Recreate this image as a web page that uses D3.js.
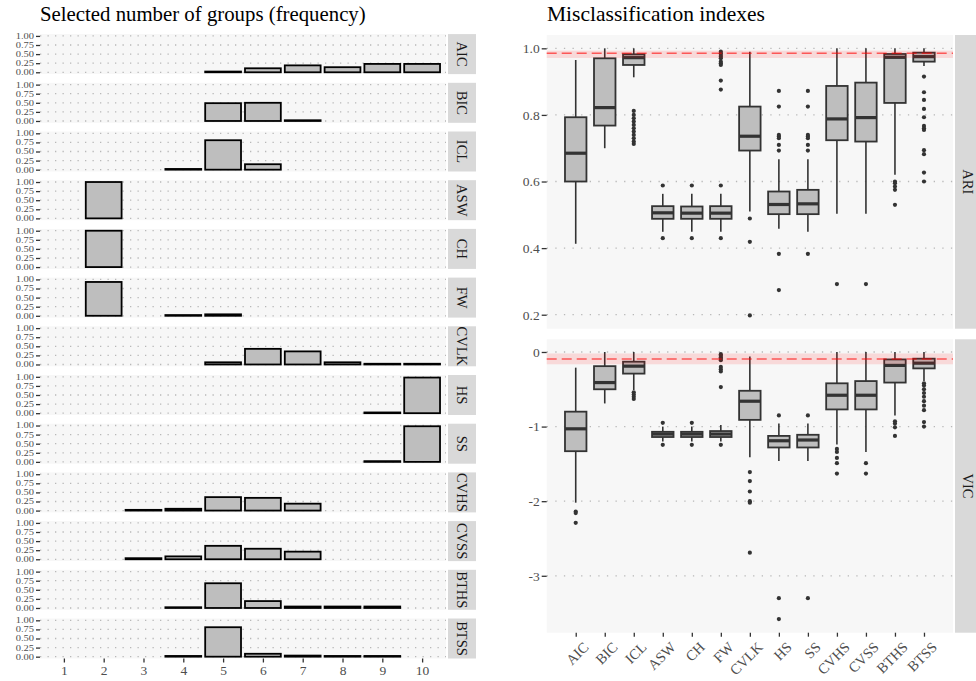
<!DOCTYPE html>
<html>
<head>
<meta charset="utf-8">
<script src="https://cdn.jsdelivr.net/npm/d3@7"></script>
<style>
  body { margin: 0; background: #fff; }
  svg text { font-family: "Liberation Serif", "Times New Roman", Times, "DejaVu Serif", "Noto Serif", serif !important; }
</style>
</head>
<body>
<script>
var width = 976,
    height = 681;

// ---- data ----
var methods = ["AIC","BIC","ICL","ASW","CH","FW","CVLK","HS","SS","CVHS","CVSS","BTHS","BTSS"];
var groupCounts = [1,2,3,4,5,6,7,8,9,10];

// frequency of selected number of groups (1..10), one array per method
var freqAIC  = [0,0,0,0,0.02,0.11,0.19,0.14,0.23,0.23];
var freqBIC  = [0,0,0,0,0.49,0.5,0.02,0,0,0];
var freqICL  = [0,0,0,0.02,0.81,0.15,0,0,0,0];
var freqASW  = [0,1,0,0,0,0,0,0,0,0];
var freqCH   = [0,1,0,0,0,0,0,0,0,0];
var freqFW   = [0,0.93,0,0.02,0.04,0,0,0,0,0];
var freqCVLK = [0,0,0,0,0.06,0.43,0.36,0.06,0.02,0.02];
var freqHS   = [0,0,0,0,0,0,0,0,0.02,0.98];
var freqSS   = [0,0,0,0,0,0,0,0,0.02,0.98];
var freqCVHS = [0,0,0.02,0.05,0.37,0.35,0.19,0,0,0];
var freqCVSS = [0,0,0.03,0.08,0.37,0.29,0.21,0,0,0];
var freqBTHS = [0,0,0,0.02,0.68,0.19,0.04,0.04,0.04,0];
var freqBTSS = [0,0,0,0.02,0.81,0.08,0.03,0.02,0.02,0];
var freqs = [freqAIC,freqBIC,freqICL,freqASW,freqCH,freqFW,freqCVLK,freqHS,freqSS,freqCVHS,freqCVSS,freqBTHS,freqBTSS];

// ARI boxplot stats per method
var ariLow  = [0.413,0.70,0.913,0.449,0.449,0.449,0.51,0.458,0.449,0.503,0.503,0.62,0.947];
var ariQ1   = [0.60,0.768,0.95,0.488,0.488,0.488,0.693,0.502,0.502,0.724,0.72,0.836,0.96];
var ariMed  = [0.685,0.822,0.972,0.506,0.505,0.505,0.736,0.531,0.533,0.788,0.792,0.973,0.975];
var ariQ3   = [0.793,0.97,0.982,0.526,0.525,0.526,0.825,0.57,0.575,0.887,0.897,0.983,0.987];
var ariHigh = [0.965,1.0,1.0,0.563,0.563,0.563,0.99,0.667,0.667,1.0,1.0,1.0,1.0];
var ariOut  = [
  [],
  [],
  [0.812,0.80,0.79,0.78,0.77,0.76,0.75,0.74,0.73,0.72,0.713],
  [0.588,0.43],
  [0.588,0.43],
  [0.99,0.985,0.98,0.975,0.97,0.96,0.955,0.95,0.903,0.876,0.588,0.43],
  [0.489,0.419,0.198],
  [0.872,0.825,0.74,0.735,0.73,0.71,0.693,0.383,0.274],
  [0.872,0.825,0.74,0.735,0.73,0.71,0.693,0.383],
  [0.292],
  [0.292],
  [0.60,0.595,0.585,0.575,0.53],
  [0.915,0.868,0.845,0.818,0.793,0.767,0.76,0.755,0.694,0.682,0.627,0.60]
];

// VIC boxplot stats per method
var vicLow  = [-2.02,-0.69,-0.51,-1.2,-1.2,-1.2,-1.41,-1.46,-1.46,-1.24,-1.34,-0.85,-0.39];
var vicQ1   = [-1.33,-0.50,-0.29,-1.14,-1.14,-1.14,-0.91,-1.28,-1.28,-0.77,-0.77,-0.41,-0.22];
var vicMed  = [-1.03,-0.41,-0.19,-1.10,-1.10,-1.10,-0.66,-1.19,-1.18,-0.58,-0.58,-0.18,-0.15];
var vicQ3   = [-0.80,-0.19,-0.13,-1.07,-1.07,-1.06,-0.52,-1.125,-1.11,-0.42,-0.39,-0.10,-0.09];
var vicHigh = [-0.21,0,0,-1.0,-1.0,-0.98,-0.06,-0.96,-0.96,0,0,0,0];
var vicOut  = [
  [-2.14,-2.16,-2.29],
  [],
  [-0.54,-0.57,-0.60,-0.63],
  [-0.95,-1.245],
  [-0.95,-1.245],
  [-0.03,-0.05,-0.07,-0.09,-0.11,-0.20,-0.23,-0.26,-0.47,-1.245],
  [-1.61,-1.73,-1.87,-2.0,-2.02,-2.69],
  [-0.85,-3.30,-3.58],
  [-0.85,-3.30],
  [-1.30,-1.34,-1.42,-1.49,-1.63],
  [-1.49,-1.63],
  [-0.93,-0.96,-1.01,-1.125],
  [-0.42,-0.45,-0.50,-0.55,-0.60,-0.66,-0.72,-0.78,-0.94,-1.0]
];

// reference line (dashed) and band for each index
var ariRef = 0.985, ariBand = [0.971, 0.993];
var vicRef = -0.094, vicBand = [-0.165, -0.02];

// ---- colours ----
var panelBg = "#f7f7f7",
    stripBg = "#d9d9d9",
    gridCol = "#b8b8b8",
    tickCol = "#4d4d4d",
    boxFill = "#bebebe",
    dark = "#333333";

var svg = d3.select("body").append("svg")
    .attr("width", width)
    .attr("height", height);

// ================= left: frequencies =================
var lx0 = 40, lx1 = 446,
    ptop = 34.1, ph = 40, pstep = 48.7;

svg.append("text")
    .attr("x", 40).attr("y", 21)
    .attr("font-size", 20.8)
    .text("Selected number of groups (frequency)");

var x = d3.scaleLinear().domain([0.4, 10.6]).range([lx0, lx1]);
var barW = 0.9 * (x(2) - x(1));

methods.forEach(function(m, i) {
  var top = ptop + i * pstep;
  var y = d3.scaleLinear().domain([-0.05, 1.05]).range([top + ph, top]);
  var g = svg.append("g");

  g.append("rect")
      .attr("x", lx0).attr("y", top)
      .attr("width", lx1 - lx0).attr("height", ph)
      .attr("fill", panelBg);

  g.selectAll(".grid")
      .data([0, 0.25, 0.5, 0.75, 1])
    .enter().append("line")
      .attr("x1", lx0).attr("x2", lx1)
      .attr("y1", function(d) { return y(d); })
      .attr("y2", function(d) { return y(d); })
      .attr("stroke", gridCol)
      .attr("stroke-width", 1.3)
      .attr("stroke-dasharray", "1.3,6.2");

  var yAxis = g.append("g")
      .attr("transform", "translate(" + lx0 + ",0)")
      .call(d3.axisLeft(y).tickValues([0, 0.25, 0.5, 0.75, 1]).tickFormat(d3.format(".2f")).tickSize(4).tickPadding(2));
  yAxis.select(".domain").remove();
  yAxis.selectAll("line").attr("stroke", dark).attr("stroke-width", 1.3);
  // tick labels in the reference are squeezed vertically
  yAxis.selectAll("text")
      .attr("fill", tickCol)
      .attr("font-size", 10.5)
      .attr("transform", "scale(1,0.72)");

  var data = freqs[i].map(function(v, j) { return {k: groupCounts[j], v: v}; })
      .filter(function(d) { return d.v > 0; });

  g.selectAll(".bar")
      .data(data)
    .enter().append("rect")
      .attr("x", function(d) { return x(d.k) - barW / 2; })
      .attr("width", barW)
      .attr("y", function(d) { return y(d.v); })
      .attr("height", function(d) { return y(0) - y(d.v); })
      .attr("fill", boxFill)
      .attr("stroke", "#000")
      .attr("stroke-width", 1.8);

  // strip
  g.append("rect")
      .attr("x", 448).attr("y", top)
      .attr("width", 28).attr("height", ph)
      .attr("fill", stripBg);
  g.append("text")
      .attr("transform", "translate(462," + (top + ph / 2) + ") rotate(90)")
      .attr("text-anchor", "middle")
      .attr("dy", "0.35em")
      .attr("font-size", 14.5)
      .attr("fill", "#1a1a1a")
      .text(m);
});

var lbottom = ptop + 12 * pstep + ph;
var xAxis = svg.append("g")
    .attr("transform", "translate(0," + lbottom + ")")
    .call(d3.axisBottom(x).tickValues(groupCounts).tickFormat(d3.format("d")).tickSize(4).tickPadding(3));
xAxis.select(".domain").remove();
xAxis.selectAll("line").attr("stroke", dark).attr("stroke-width", 1.3);
xAxis.selectAll("text")
    .attr("fill", tickCol)
    .attr("font-size", 13.5);

// ================= right: misclassification boxplots =================
var rx0 = 546.7, rx1 = 953;

svg.append("text")
    .attr("x", 547).attr("y", 21)
    .attr("font-size", 21.5)
    .text("Misclassification indexes");

var xm = d3.scalePoint().domain(methods).range([rx0, rx1]).padding(1);
var boxW = 0.74 * xm.step();

var facets = [
  {name: "ARI", top: 35, bottom: 328.7, domain: [0.158, 1.04], ticks: [0.2, 0.4, 0.6, 0.8, 1.0],
   fmt: d3.format(".1f"), low: ariLow, q1: ariQ1, med: ariMed, q3: ariQ3, high: ariHigh, out: ariOut,
   ref: ariRef, band: ariBand},
  {name: "VIC", top: 339.3, bottom: 632.7, domain: [-3.763, 0.17], ticks: [-3, -2, -1, 0],
   fmt: function(d) { return String(d); }, low: vicLow, q1: vicQ1, med: vicMed, q3: vicQ3, high: vicHigh, out: vicOut,
   ref: vicRef, band: vicBand}
];

facets.forEach(function(f) {
  var y = d3.scaleLinear().domain(f.domain).range([f.bottom, f.top]);
  var g = svg.append("g");

  g.append("rect")
      .attr("x", rx0).attr("y", f.top)
      .attr("width", rx1 - rx0).attr("height", f.bottom - f.top)
      .attr("fill", panelBg);

  g.selectAll(".grid")
      .data(f.ticks)
    .enter().append("line")
      .attr("x1", rx0).attr("x2", rx1)
      .attr("y1", function(d) { return y(d); })
      .attr("y2", function(d) { return y(d); })
      .attr("stroke", gridCol)
      .attr("stroke-width", 1.3)
      .attr("stroke-dasharray", "1.3,7.3");

  var yAxis = g.append("g")
      .attr("transform", "translate(" + rx0 + ",0)")
      .call(d3.axisLeft(y).tickValues(f.ticks).tickFormat(f.fmt).tickSize(5).tickPadding(2));
  yAxis.select(".domain").remove();
  yAxis.selectAll("line").attr("stroke", dark).attr("stroke-width", 1.3);
  yAxis.selectAll("text")
      .attr("fill", tickCol)
      .attr("font-size", 13.5);

  var boxes = methods.map(function(m, i) {
    return {m: m, low: f.low[i], q1: f.q1[i], med: f.med[i], q3: f.q3[i], high: f.high[i], out: f.out[i]};
  });

  var bg = g.selectAll(".box")
      .data(boxes)
    .enter().append("g");

  // whiskers
  bg.append("line")
      .attr("x1", function(d) { return xm(d.m); })
      .attr("x2", function(d) { return xm(d.m); })
      .attr("y1", function(d) { return y(d.high); })
      .attr("y2", function(d) { return y(d.low); })
      .attr("stroke", dark)
      .attr("stroke-width", 1.6);

  bg.append("rect")
      .attr("x", function(d) { return xm(d.m) - boxW / 2; })
      .attr("width", boxW)
      .attr("y", function(d) { return y(d.q3); })
      .attr("height", function(d) { return y(d.q1) - y(d.q3); })
      .attr("fill", boxFill)
      .attr("stroke", dark)
      .attr("stroke-width", 1.8);

  bg.append("line")
      .attr("x1", function(d) { return xm(d.m) - boxW / 2; })
      .attr("x2", function(d) { return xm(d.m) + boxW / 2; })
      .attr("y1", function(d) { return y(d.med); })
      .attr("y2", function(d) { return y(d.med); })
      .attr("stroke", dark)
      .attr("stroke-width", 3.2);

  bg.selectAll(".out")
      .data(function(d) { return d.out.map(function(v) { return {m: d.m, v: v}; }); })
    .enter().append("circle")
      .attr("cx", function(d) { return xm(d.m); })
      .attr("cy", function(d) { return y(d.v); })
      .attr("r", 2.1)
      .attr("fill", dark);

  // reference band and dashed line
  g.append("rect")
      .attr("x", rx0).attr("width", rx1 - rx0)
      .attr("y", y(f.band[1]))
      .attr("height", y(f.band[0]) - y(f.band[1]))
      .attr("fill", "red")
      .attr("fill-opacity", 0.12);
  g.append("line")
      .attr("x1", rx0).attr("x2", rx1)
      .attr("y1", y(f.ref)).attr("y2", y(f.ref))
      .attr("stroke", "red")
      .attr("stroke-opacity", 0.6)
      .attr("stroke-width", 1.5)
      .attr("stroke-dasharray", "10,5");

  // strip
  g.append("rect")
      .attr("x", 955).attr("y", f.top)
      .attr("width", 28).attr("height", f.bottom - f.top)
      .attr("fill", stripBg);
  g.append("text")
      .attr("transform", "translate(968," + ((f.top + f.bottom) / 2) + ") rotate(90)")
      .attr("text-anchor", "middle")
      .attr("dy", "0.35em")
      .attr("font-size", 14.5)
      .attr("fill", "#1a1a1a")
      .text(f.name);
});

var xmAxis = svg.append("g")
    .attr("transform", "translate(0,632.7)")
    .call(d3.axisBottom(xm).tickSize(4).tickPadding(2));
xmAxis.select(".domain").remove();
xmAxis.selectAll("line").attr("stroke", dark).attr("stroke-width", 1.3);
xmAxis.selectAll("text")
    .attr("fill", tickCol)
    .attr("font-size", 14.5)
    .attr("text-anchor", "end")
    .attr("dy", "0.5em")
    .attr("transform", "translate(4,6) rotate(-45)");
</script>
</body>
</html>
